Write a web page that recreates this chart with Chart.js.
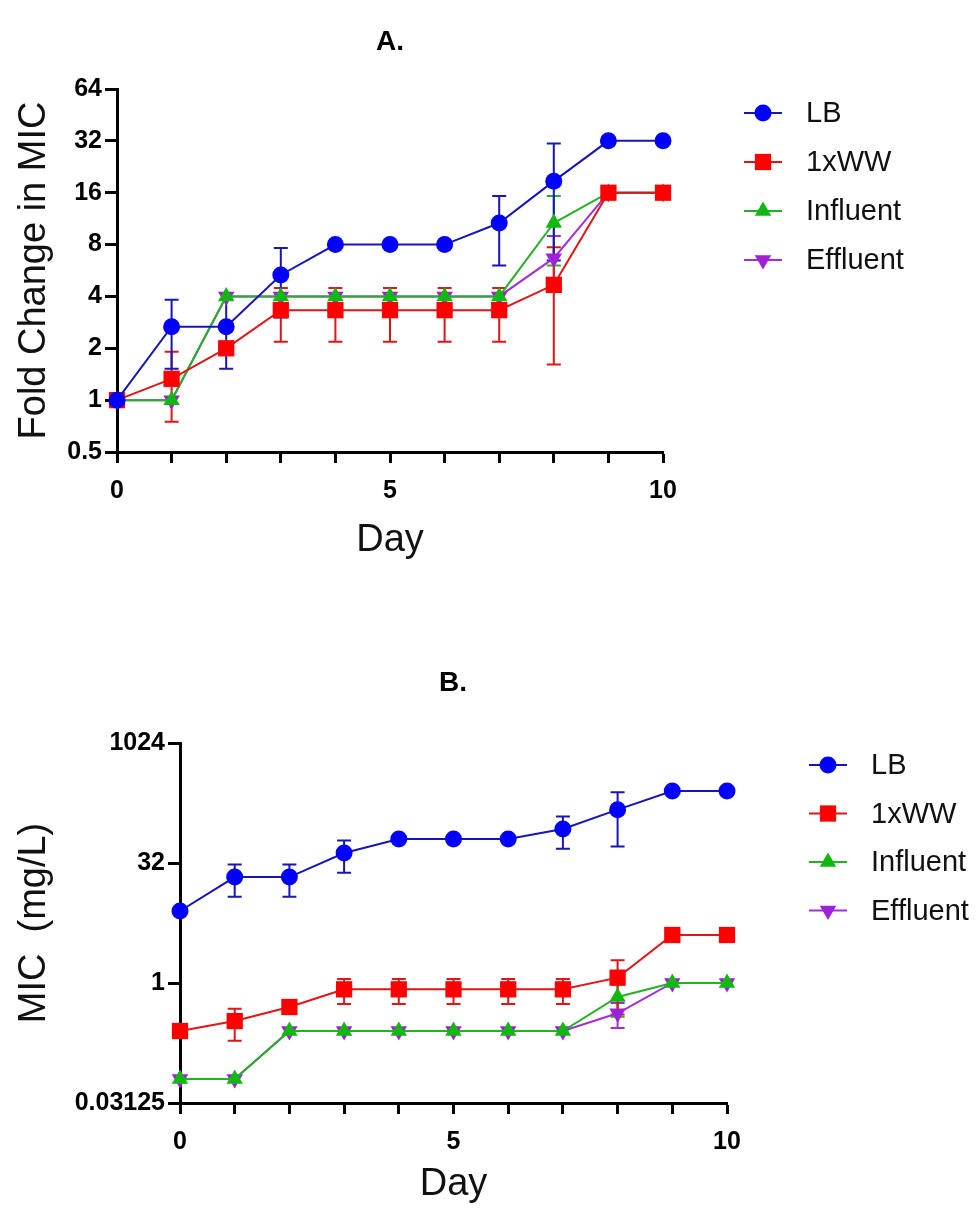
<!DOCTYPE html>
<html>
<head>
<meta charset="utf-8">
<script src="https://cdn.jsdelivr.net/npm/chart.js@4.4.0/dist/chart.umd.min.js"></script>
<style>
  html, body { margin: 0; padding: 0; background: #fff; overflow: hidden; }
  .wrap { position: absolute; left: 0; width: 976px; }
  #wrapA { top: 0; height: 600px; }
  #wrapB { top: 600px; height: 609px; }
</style>
</head>
<body>
<div class="wrap" id="wrapA"><canvas id="chartA"></canvas></div>
<div class="wrap" id="wrapB"><canvas id="chartB"></canvas></div>
<script>
const days = [0, 1, 2, 3, 4, 5, 6, 7, 8, 9, 10];
const seriesNames = ["LB", "1xWW", "Influent", "Effluent"];

// A. fold change in MIC (mean, SD)
const foldLB = [1, 2.67, 2.67, 5.33, 8, 8, 8, 10.67, 18.67, 32, 32];
const foldLBsd = [0, 1.15, 1.15, 2.31, 0, 0, 0, 4.62, 12.2, 0, 0];
const foldWW = [1, 1.33, 2, 3.33, 3.33, 3.33, 3.33, 3.33, 4.67, 16, 16];
const foldWWsd = [0, 0.58, 0, 1.15, 1.15, 1.15, 1.15, 1.15, 3.06, 0, 0];
const foldInf = [1, 1, 4, 4, 4, 4, 4, 4, 10.67, 16, 16];
const foldInfsd = [0, 0, 0, 0, 0, 0, 0, 0, 4.62, 0, 0];
const foldEff = [1, 1, 4, 4, 4, 4, 4, 4, 6.67, 16, 16];
const foldEffsd = [0, 0, 0, 0, 0, 0, 0, 0, 2.31, 0, 0];
const foldTicks = [0.5, 1, 2, 4, 8, 16, 32, 64];

// B. MIC in mg/L (mean, SD)
const micLB = [8, 21.33, 21.33, 42.67, 64, 64, 64, 85.33, 149.3, 256, 256];
const micLBsd = [0, 9.24, 9.24, 18.5, 0, 0, 0, 37, 97.8, 0, 0];
const micWW = [0.25, 0.333, 0.5, 0.833, 0.833, 0.833, 0.833, 0.833, 1.167, 4, 4];
const micWWsd = [0, 0.144, 0, 0.289, 0.289, 0.289, 0.289, 0.289, 0.764, 0, 0];
const micInf = [0.0625, 0.0625, 0.25, 0.25, 0.25, 0.25, 0.25, 0.25, 0.667, 1, 1];
const micInfsd = [0, 0, 0, 0, 0, 0, 0, 0, 0.289, 0, 0];
const micEff = [0.0625, 0.0625, 0.25, 0.25, 0.25, 0.25, 0.25, 0.25, 0.417, 1, 1];
const micEffsd = [0, 0, 0, 0, 0, 0, 0, 0, 0.144, 0, 0];
const micTicks = [0.03125, 1, 32, 1024];

const markerColors = ["#0000ff", "#ff0000", "#12b812", "#a020d8"];
const lineColors = ["#1616b8", "#e01616", "#26b026", "#a22ed6"];
const pointStyles = ["circle", "rect", "triangle", "triangle"];
const pointRotations = [0, 0, 0, 180];
const pointRadii = [8.5, 11.5, 9.5, 9.5];

const FONT = "'Liberation Sans', Arial, sans-serif";

function drawMarker(ctx, i, x, y) {
    const r = pointRadii[i];
    ctx.fillStyle = markerColors[i];
    ctx.beginPath();
    if (pointStyles[i] === "circle") {
        ctx.arc(x, y, r, 0, Math.PI * 2);
    } else if (pointStyles[i] === "rect") {
        const s = r * Math.SQRT1_2;
        ctx.rect(x - s, y - s, 2 * s, 2 * s);
    } else {
        const d = pointRotations[i] === 180 ? -1 : 1;
        const h = r * Math.sqrt(3) / 2;
        ctx.moveTo(x, y - d * r);
        ctx.lineTo(x - h, y + d * r / 2);
        ctx.lineTo(x + h, y + d * r / 2);
        ctx.closePath();
    }
    ctx.fill();
}

const errorBars = {
    id: "errorBars",
    beforeDatasetsDraw(chart) {
        const { ctx, scales: { x, y } } = chart;
        ctx.save();
        ctx.lineWidth = 2;
        for (let i = chart.data.datasets.length - 1; i >= 0; i--) {
            const ds = chart.data.datasets[i];
            ctx.strokeStyle = ds.borderColor;
            ds.data.forEach((pt, j) => {
                const sd = ds.sd[j];
                if (!sd) return;
                const px = x.getPixelForValue(pt.x);
                const top = y.getPixelForValue(pt.y + sd);
                const bot = y.getPixelForValue(pt.y - sd);
                ctx.beginPath();
                ctx.moveTo(px, top); ctx.lineTo(px, bot);
                ctx.moveTo(px - 7, top); ctx.lineTo(px + 7, top);
                ctx.moveTo(px - 7, bot); ctx.lineTo(px + 7, bot);
                ctx.stroke();
            });
        }
        ctx.restore();
    }
};

const panelExtras = {
    id: "panelExtras",
    afterDraw(chart, args, opts) {
        const ctx = chart.ctx;
        ctx.save();
        ctx.fillStyle = "#000";
        ctx.font = "bold 28px " + FONT;
        ctx.textAlign = "center";
        ctx.textBaseline = "middle";
        ctx.fillText(opts.title, opts.titleX, opts.titleY);

        // legend: short line through the marker, then the name
        ctx.font = "29px " + FONT;
        ctx.textAlign = "left";
        seriesNames.forEach((name, i) => {
            const y = opts.legendY + i * opts.legendGap;
            ctx.strokeStyle = lineColors[i];
            ctx.lineWidth = 2;
            ctx.beginPath();
            ctx.moveTo(opts.legendX - 19, y);
            ctx.lineTo(opts.legendX + 19, y);
            ctx.stroke();
            drawMarker(ctx, i, opts.legendX, y);
            ctx.fillStyle = "#111";
            ctx.fillText(name, opts.legendX + 43, y + 1);
        });
        ctx.restore();
    }
};

function makeDatasets(values, sds) {
    return seriesNames.map((name, i) => ({
        label: name,
        data: days.map((d, j) => ({ x: d, y: values[i][j] })),
        sd: sds[i],
        borderColor: lineColors[i],
        backgroundColor: markerColors[i],
        borderWidth: 2,
        pointStyle: pointStyles[i],
        rotation: pointRotations[i],
        pointRadius: pointRadii[i],
        pointBorderWidth: 0,
        pointBackgroundColor: markerColors[i],
        tension: 0,
        clip: false,
    }));
}

function makeChart(id, p) {
    const ctx = document.getElementById(id).getContext("2d");
    return new Chart(ctx, {
        type: "line",
        data: { datasets: makeDatasets(p.values, p.sds) },
        plugins: [errorBars, panelExtras],
        options: {
            responsive: true,
            maintainAspectRatio: false,
            animation: false,
            layout: { padding: p.padding },
            scales: {
                x: {
                    type: "linear",
                    min: 0,
                    max: 10,
                    border: { color: "#000", width: 3 },
                    grid: { drawOnChartArea: false, tickLength: 11, tickWidth: 3, tickColor: "#000" },
                    ticks: {
                        stepSize: 1,
                        autoSkip: false,
                        maxRotation: 0,
                        padding: 13,
                        color: "#000",
                        font: { family: FONT, size: 25, weight: "bold" },
                        callback: (v) => (v % 5 === 0 ? v : ""),
                    },
                    title: {
                        display: true,
                        text: "Day",
                        color: "#111",
                        font: { family: FONT, size: 38 },
                        padding: { top: 0, bottom: 0 },
                    },
                    afterFit: (s) => { s.height = p.xHeight; },
                },
                y: {
                    type: "logarithmic",
                    min: p.ticks[0],
                    max: p.ticks[p.ticks.length - 1],
                    border: { color: "#000", width: 3 },
                    grid: { drawOnChartArea: false, tickLength: 12, tickWidth: 3, tickColor: "#000" },
                    afterBuildTicks: (s) => { s.ticks = p.ticks.map((v) => ({ value: v })); },
                    ticks: {
                        padding: 3,
                        color: "#000",
                        font: { family: FONT, size: 25, weight: "bold" },
                        callback: (v) => String(v),
                    },
                    title: {
                        display: true,
                        text: p.yTitle,
                        color: "#111",
                        font: { family: FONT, size: 38 },
                        padding: { top: 4, bottom: 4 },
                    },
                    afterFit: (s) => { s.width = p.yWidth; },
                },
            },
            plugins: {
                legend: { display: false },
                tooltip: { enabled: false },
                panelExtras: p.extras,
            },
        },
    });
}

makeChart("chartA", {
    values: [foldLB, foldWW, foldInf, foldEff],
    sds: [foldLBsd, foldWWsd, foldInfsd, foldEffsd],
    ticks: foldTicks,
    yTitle: "Fold Change in MIC",
    padding: { left: 8, top: 89, right: 313, bottom: 37 },
    yWidth: 109,
    xHeight: 111,
    extras: { title: "A.", titleX: 390, titleY: 42, legendX: 763, legendY: 113, legendGap: 49 },
});

makeChart("chartB", {
    values: [micLB, micWW, micInf, micEff],
    sds: [micLBsd, micWWsd, micInfsd, micEffsd],
    ticks: micTicks,
    yTitle: "MIC  (mg/L)",
    padding: { left: 8, top: 143, right: 249, bottom: 2 },
    yWidth: 172,
    xHeight: 104,
    extras: { title: "B.", titleX: 453, titleY: 83, legendX: 828, legendY: 165, legendGap: 48.5 },
});
</script>
</body>
</html>
